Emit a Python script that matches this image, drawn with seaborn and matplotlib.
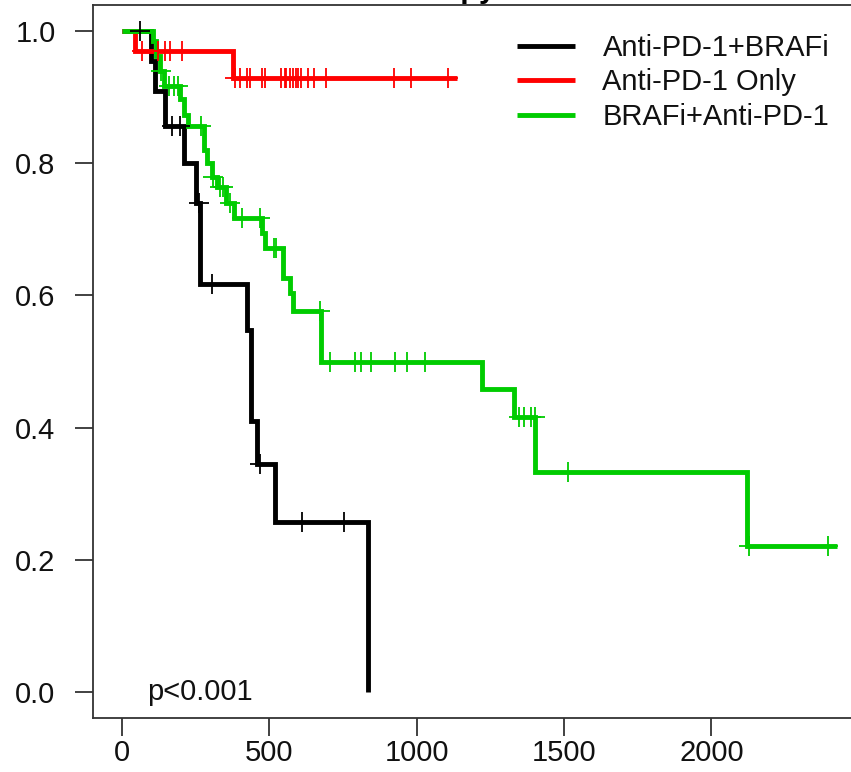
import numpy as np
import pandas as pd
import matplotlib
matplotlib.use("Agg")
import matplotlib.pyplot as plt
import seaborn as sns

# ---------------- data ----------------
groups = ["Anti-PD-1+BRAFi", "Anti-PD-1 Only", "BRAFi+Anti-PD-1"]
colors = ["#000000", "#ff0000", "#00cc00"]

# Kaplan-Meier step curves (time, survival) - steps-post
black_t = [0, 100, 112, 148, 210, 252, 267, 424, 440, 458, 520, 835]
black_s = [1.0, 0.955, 0.909, 0.857, 0.80, 0.74, 0.617, 0.548, 0.41, 0.344, 0.257, 0.0]
black_cens = [64, 171, 199, 262, 306, 469, 610, 754]

red_t = [0, 47, 379, 1138]
red_s = [1.0, 0.970, 0.930, 0.930]
red_cens = [70, 125, 148, 165, 205, 385, 401, 424, 435, 475, 486, 542, 553,
            559, 570, 581, 590, 598, 607, 632, 651, 692, 925, 981, 1105]

green_t = [0, 105, 118, 130, 145, 199, 210, 226, 278, 288, 308, 325, 355, 380,
           475, 485, 548, 570, 581, 677, 1221, 1330, 1403, 2121, 2427]
green_s = [1.0, 0.985, 0.962, 0.94, 0.917, 0.897, 0.874, 0.857, 0.82, 0.80,
           0.78, 0.765, 0.74, 0.718, 0.695, 0.672, 0.627, 0.604, 0.576, 0.5,
           0.458, 0.416, 0.332, 0.221, 0.221]
green_cens = [132, 159, 177, 190, 268, 311, 334, 345, 368, 407, 469, 517, 525,
              672, 705, 793, 812, 846, 927, 968, 1029, 1347, 1363, 1389, 1401,
              1513, 2128, 2395]

x_ticks = [0, 500, 1000, 1500, 2000]
y_ticks = [0.0, 0.2, 0.4, 0.6, 0.8, 1.0]
p_text = "p<0.001"
title_text = "Therapy"

# ---------------- figure ----------------
sns.set_theme(style="white")
plt.rcParams["font.family"] = ["Liberation Sans", "DejaVu Sans"]

W, H = 851, 772
FS = 21
fig = plt.figure(figsize=(W / 100, H / 100), dpi=100)
left, right, top, bottom = 93, 866, 5, 718
ax = fig.add_axes([left / W, 1 - bottom / H, (right - left) / W, (bottom - top) / H])

curves = [(black_t, black_s, black_cens), (red_t, red_s, red_cens), (green_t, green_s, green_cens)]

def level_at(ts, ss, t):
    i = np.searchsorted(ts, t, side="right") - 1
    return ss[max(i, 0)]

for (ts, ss, cs), g, c in zip(curves, groups, colors):
    df = pd.DataFrame({"time": ts, "surv": ss})
    sns.lineplot(data=df, x="time", y="surv", ax=ax, color=c, linewidth=3.5,
                 drawstyle="steps-post", estimator=None, sort=False, label=g,
                 solid_capstyle="butt", solid_joinstyle="miter")

for (ts, ss, cs), g, c in zip(curves, groups, colors):
    cdf = pd.DataFrame({"time": cs, "surv": [level_at(ts, ss, t) for t in cs]})
    sns.scatterplot(data=cdf, x="time", y="surv", ax=ax, marker="+", s=190,
                    color=c, linewidth=1.3, legend=False, zorder=5)

ax.set_xlim(-97, 2524)
ax.set_ylim(-0.04, 1.04)
ax.set_xticks(x_ticks)
ax.set_xticklabels([str(v) for v in x_ticks])
ax.set_yticks(y_ticks)
ax.set_yticklabels([f"{v:.1f}" for v in y_ticks])
ax.set_xlabel("")
ax.set_ylabel("")
ax.tick_params(axis="both", which="both", direction="out", length=13, width=1.3,
               color="#333333", labelsize=FS, labelcolor="#111111",
               left=True, bottom=True)
ax.tick_params(axis="y", pad=14)
ax.tick_params(axis="x", pad=2)
for sp in ax.spines.values():
    sp.set_visible(True)
    sp.set_color("#333333")
    sp.set_linewidth(1.3)

ax.text(85, 0.0, p_text, fontsize=FS, color="#111111", va="center", ha="left")

leg = ax.legend(loc="upper left", bbox_to_anchor=(517 / W, 1 - 34 / H),
                bbox_transform=fig.transFigure, frameon=False,
                fontsize=FS, handlelength=2.0, handletextpad=0.93,
                labelspacing=0.22, borderaxespad=0, borderpad=0)
for line in leg.get_lines():
    line.set_linewidth(3.5)
for t in leg.get_texts():
    t.set_color("#111111")

fig.text(497 / W, 1 + 3 / H, title_text, fontsize=22, fontweight="bold",
         ha="right", va="baseline", color="#000000")

fig.savefig("out.png", dpi=100)
